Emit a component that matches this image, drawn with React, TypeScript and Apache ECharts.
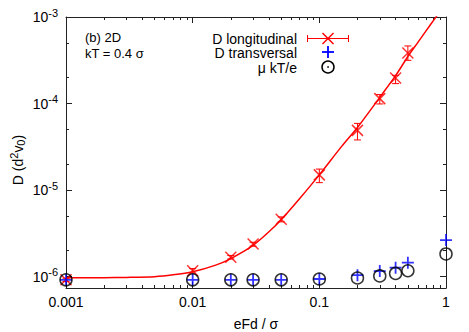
import React, { useEffect, useRef } from 'react';
import * as echarts from 'echarts';

// ---------- data ----------
const fieldLong = [0.001, 0.01, 0.02, 0.03, 0.05, 0.1, 0.2, 0.3, 0.4, 0.5];
const dLong = [9.2e-7, 1.17e-6, 1.68e-6, 2.38e-6, 4.6e-6, 1.5e-5, 4.9e-5, 1.14e-4, 1.97e-4, 3.84e-4];
const dLongLow = [8.8e-7, 1.1e-6, 1.6e-6, 2.25e-6, 4.3e-6, 1.22e-5, 3.8e-5, 9.9e-5, 1.7e-4, 3.16e-4];
const dLongHigh = [9.6e-7, 1.24e-6, 1.76e-6, 2.5e-6, 4.9e-6, 1.75e-5, 5.9e-5, 1.27e-4, 2.12e-4, 4.63e-4];

const fieldTrans = [0.001, 0.01, 0.02, 0.03, 0.05, 0.1, 0.2, 0.3, 0.4, 0.5, 1];
const dTrans = [9.2e-7, 9.2e-7, 9.2e-7, 9.2e-7, 9.2e-7, 9.4e-7, 1.04e-6, 1.16e-6, 1.27e-6, 1.45e-6, 2.65e-6];
const mobility = [9.2e-7, 9.2e-7, 9.2e-7, 9.2e-7, 9.2e-7, 9.4e-7, 9.65e-7, 1.02e-6, 1.09e-6, 1.17e-6, 1.83e-6];

const fitX = [0.001, 0.002, 0.003, 0.005, 0.007, 0.01, 0.015, 0.02, 0.03, 0.04, 0.05, 0.07, 0.1, 0.15, 0.2, 0.3, 0.4, 0.5, 0.6, 0.7, 0.8, 0.9];
const fitY = [9.7e-7, 9.75e-7, 9.8e-7, 1.0e-6, 1.05e-6, 1.14e-6, 1.35e-6, 1.62e-6, 2.3e-6, 3.3e-6, 4.55e-6, 8.0e-6, 1.5e-5, 3.2e-5, 5.3e-5, 1.18e-4, 2.1e-4, 3.5e-4, 5.1e-4, 7.0e-4, 9.2e-4, 1.17e-3];

// ---------- ticks ----------
const xMajor = [0.001, 0.01, 0.1, 1];
const xMajorLabels = ['0.001', '0.01', '0.1', '1'];
const xMinor = [
  0.002, 0.003, 0.004, 0.005, 0.006, 0.007, 0.008, 0.009,
  0.02, 0.03, 0.04, 0.05, 0.06, 0.07, 0.08, 0.09,
  0.2, 0.3, 0.4, 0.5, 0.6, 0.7, 0.8, 0.9,
];
const yMajor = [1e-6, 1e-5, 1e-4, 1e-3];
const yExponents = ['-6', '-5', '-4', '-3'];
const yMinor = [2e-6, 5e-6, 2e-5, 5e-5, 2e-4, 5e-4];

const X_MIN = 0.001;
const X_MAX = 1;
const Y_MIN = 7.4e-7;
const Y_MAX = 1e-3;

const FONT = "'Liberation Sans', Arial, Helvetica, sans-serif";
const AXIS_COLOR = '#222';
const RED = '#ff0000';
const BLUE = '#0000ff';

function nearestIndex(arr: number[], v: number) {
  let best = 0;
  let bd = Infinity;
  arr.forEach((a, i) => {
    const d = Math.abs(Math.log10(a) - Math.log10(v));
    if (d < bd) { bd = d; best = i; }
  });
  return best;
}

function makeX(position: 'bottom' | 'top', minor: boolean, labels: boolean) {
  return {
    type: 'log',
    logBase: 10,
    min: X_MIN,
    max: X_MAX,
    position,
    axisLine: { show: !minor, lineStyle: { color: AXIS_COLOR, width: 1 } },
    axisTick: {
      show: true,
      inside: true,
      length: minor ? 3 : 6,
      customValues: minor ? xMinor : xMajor,
      lineStyle: { color: AXIS_COLOR, width: 1 },
    },
    axisLabel: labels
      ? {
          show: true,
          customValues: xMajor,
          margin: 7,
          color: '#000',
          fontSize: 14,
          fontFamily: FONT,
          formatter: (v: number) => xMajorLabels[nearestIndex(xMajor, v)],
        }
      : { show: false },
    splitLine: { show: false },
    minorTick: { show: false },
  };
}

function makeY(position: 'left' | 'right', minor: boolean, labels: boolean) {
  return {
    type: 'log',
    logBase: 10,
    min: Y_MIN,
    max: Y_MAX,
    position,
    axisLine: { show: !minor, lineStyle: { color: AXIS_COLOR, width: 1 } },
    axisTick: {
      show: true,
      inside: true,
      length: minor ? 3 : 6,
      customValues: minor ? yMinor : yMajor,
      lineStyle: { color: AXIS_COLOR, width: 1 },
    },
    axisLabel: labels
      ? {
          show: true,
          customValues: yMajor,
          margin: 8,
          formatter: (v: number) => `{b|10}{s|${yExponents[nearestIndex(yMajor, v)]}}`,
          rich: {
            b: { fontSize: 14, fontFamily: FONT, color: '#000' },
            s: { fontSize: 11, fontFamily: FONT, color: '#000', padding: [0, 0, 9, 0] },
          },
        }
      : { show: false },
    splitLine: { show: false },
    minorTick: { show: false },
  };
}

const errData = fieldLong.map((x, i) => [x, dLongLow[i], dLongHigh[i]]);

const textStyle = (text: string, align: string, size = 14) => ({
  text,
  font: `${size}px ${FONT}`,
  fill: '#000',
  align,
  verticalAlign: 'middle',
  lineHeight: size,
});

const option: any = {
  animation: false,
  backgroundColor: '#fff',
  grid: { left: 66, right: 23, top: 17, bottom: 44, containLabel: false },
  xAxis: [
    makeX('bottom', false, true),
    makeX('top', false, false),
    makeX('bottom', true, false),
    makeX('top', true, false),
  ],
  yAxis: [
    makeY('left', false, true),
    makeY('right', false, false),
    makeY('left', true, false),
    makeY('right', true, false),
  ],
  series: [
    {
      name: 'fit',
      type: 'line',
      xAxisIndex: 0,
      yAxisIndex: 0,
      data: fitX.map((x, i) => [x, fitY[i]]),
      showSymbol: false,
      symbol: 'none',
      smooth: 0.3,
      clip: true,
      lineStyle: { color: RED, width: 1.5 },
      z: 2,
    },
    {
      name: 'D longitudinal errors',
      type: 'custom',
      xAxisIndex: 0,
      yAxisIndex: 0,
      data: errData,
      encode: { x: 0, y: [1, 2] },
      clip: false,
      renderItem: (params: any, api: any) => {
        const x = api.value(0);
        const lo = api.coord([x, api.value(1)]);
        const hi = api.coord([x, api.value(2)]);
        const cw = 3.5;
        const style = { stroke: RED, lineWidth: 1 };
        return {
          type: 'group',
          children: [
            { type: 'line', shape: { x1: lo[0], y1: lo[1], x2: hi[0], y2: hi[1] }, style },
            { type: 'line', shape: { x1: lo[0] - cw, y1: lo[1], x2: lo[0] + cw, y2: lo[1] }, style },
            { type: 'line', shape: { x1: hi[0] - cw, y1: hi[1], x2: hi[0] + cw, y2: hi[1] }, style },
          ],
        };
      },
      z: 3,
    },
    {
      name: 'D longitudinal',
      type: 'scatter',
      xAxisIndex: 0,
      yAxisIndex: 0,
      data: fieldLong.map((x, i) => [x, dLong[i]]),
      symbol: 'path://M0,0L10,10M10,0L0,10',
      symbolSize: 11,
      clip: false,
      itemStyle: { color: 'transparent', borderColor: RED, borderWidth: 1.5 },
      z: 4,
    },
    {
      name: 'D transversal',
      type: 'scatter',
      xAxisIndex: 0,
      yAxisIndex: 0,
      data: fieldTrans.map((x, i) => [x, dTrans[i]]),
      symbol: 'path://M5,0L5,10M0,5L10,5',
      symbolSize: 12,
      clip: false,
      itemStyle: { color: 'transparent', borderColor: BLUE, borderWidth: 1.8 },
      z: 5,
    },
    {
      name: 'μ kT/e',
      type: 'scatter',
      xAxisIndex: 0,
      yAxisIndex: 0,
      data: fieldTrans.map((x, i) => [x, mobility[i]]),
      symbol: 'circle',
      symbolSize: 12,
      clip: false,
      itemStyle: { color: 'transparent', borderColor: '#000', borderWidth: 1.5 },
      z: 6,
    },
  ],
  graphic: [
    // annotation
    { type: 'text', x: 85, y: 37.5, style: textStyle('(b) 2D', 'left', 13) },
    { type: 'text', x: 85, y: 53.5, style: textStyle('kT = 0.4 σ', 'left', 13) },
    // legend texts
    { type: 'text', x: 297, y: 38.5, style: textStyle('D longitudinal', 'right') },
    { type: 'text', x: 297, y: 53.3, style: textStyle('D transversal', 'right') },
    { type: 'text', x: 297, y: 68, style: textStyle('μ kT/e', 'right') },
    // legend samples
    { type: 'line', shape: { x1: 307.5, y1: 38.5, x2: 348.5, y2: 38.5 }, style: { stroke: RED, lineWidth: 1 } },
    { type: 'line', shape: { x1: 307.5, y1: 35, x2: 307.5, y2: 42 }, style: { stroke: RED, lineWidth: 1 } },
    { type: 'line', shape: { x1: 348.5, y1: 35, x2: 348.5, y2: 42 }, style: { stroke: RED, lineWidth: 1 } },
    { type: 'line', shape: { x1: 322.5, y1: 33, x2: 333.5, y2: 44 }, style: { stroke: RED, lineWidth: 1.5 } },
    { type: 'line', shape: { x1: 333.5, y1: 33, x2: 322.5, y2: 44 }, style: { stroke: RED, lineWidth: 1.5 } },
    { type: 'line', shape: { x1: 322, y1: 52, x2: 334, y2: 52 }, style: { stroke: BLUE, lineWidth: 1.8 } },
    { type: 'line', shape: { x1: 328, y1: 46, x2: 328, y2: 58 }, style: { stroke: BLUE, lineWidth: 1.8 } },
    { type: 'circle', shape: { cx: 328, cy: 67, r: 6 }, style: { stroke: '#000', fill: 'none', lineWidth: 1.5 } },
    { type: 'circle', shape: { cx: 328, cy: 67, r: 0.8 }, style: { fill: '#000' } },
    // axis titles
    { type: 'text', x: 256, y: 324, style: textStyle('eFd / σ', 'center') },
    {
      type: 'text',
      x: 18,
      y: 160,
      rotation: Math.PI / 2,
      style: {
        text: 'D (d{sup|2}v{sub|0})',
        font: `14px ${FONT}`,
        fill: '#000',
        align: 'center',
        verticalAlign: 'middle',
        rich: {
          sup: { fontSize: 11, fontFamily: FONT, fill: '#000', padding: [0, 0, 8, 0] },
          sub: { fontSize: 11, fontFamily: FONT, fill: '#000', padding: [6, 0, 0, 0] },
        },
      },
    },
  ],
};

export default function App() {
  const ref = useRef<HTMLDivElement>(null);
  useEffect(() => {
    if (!ref.current) return;
    const chart = echarts.init(ref.current, null, { renderer: 'svg' });
    chart.setOption(option);
    return () => chart.dispose();
  }, []);
  return (
    <div
      ref={ref}
      style={{ width: 469, height: 332, position: 'absolute', left: 0, top: 0, background: '#fff' }}
    />
  );
}
